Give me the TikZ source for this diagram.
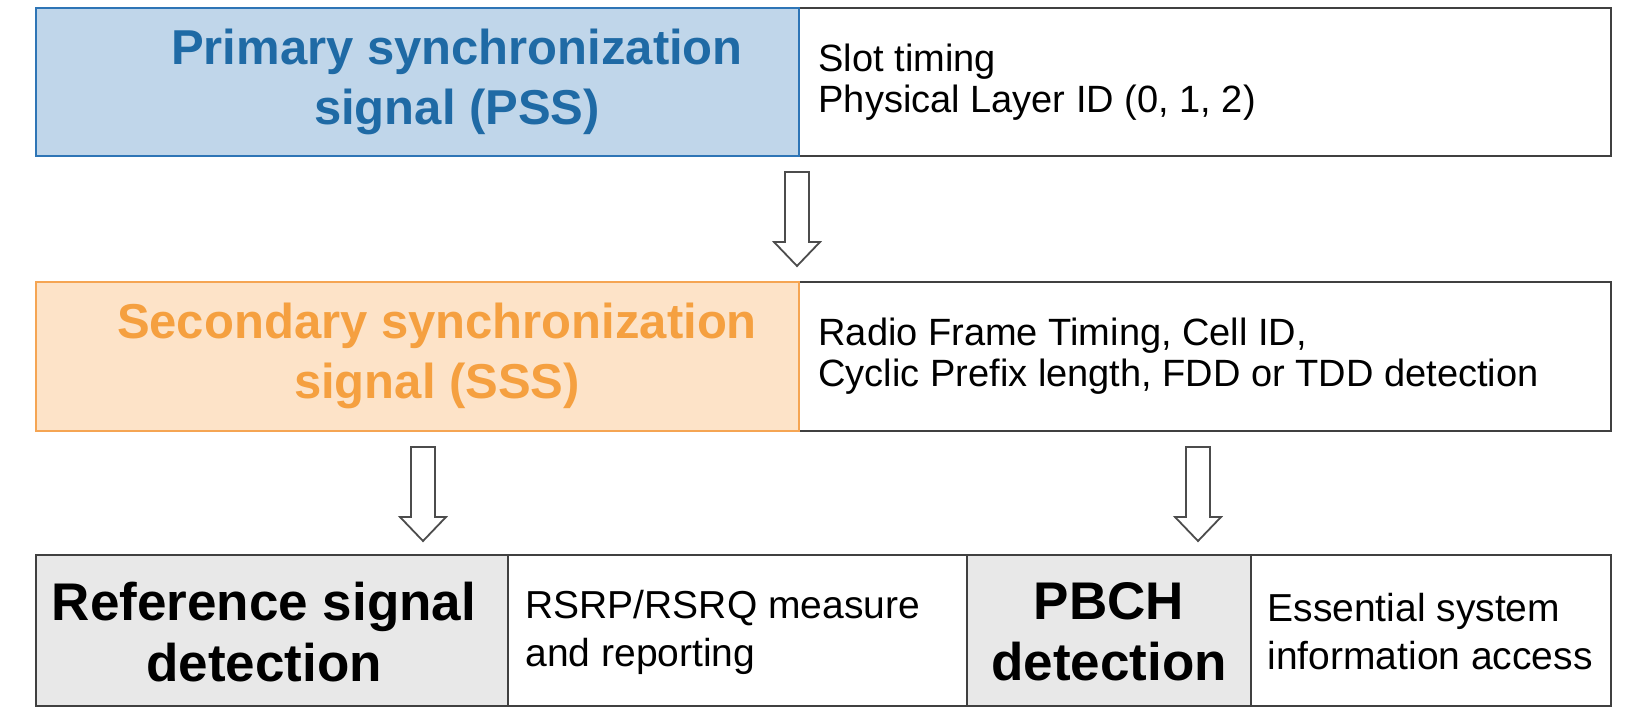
\documentclass[tikz,border=0pt]{standalone}
\usepackage{fontspec}
\setmainfont{Liberation Sans}
\definecolor{bfill}{HTML}{C0D6EA}
\definecolor{bline}{HTML}{2E75B6}
\definecolor{btext}{HTML}{1F6AA5}
\definecolor{ofill}{HTML}{FDE3C8}
\definecolor{oline}{HTML}{F5A553}
\definecolor{otext}{HTML}{F5A040}
\definecolor{gfill}{HTML}{E8E8E8}
\begin{document}
\begin{tikzpicture}[x=1pt,y=-1pt,
  box/.style={draw=black!75,line width=2pt},
  title/.style={font=\fontsize{49}{60}\selectfont\bfseries,align=center},
  desc/.style={font=\fontsize{38}{41}\selectfont,align=left,anchor=west},
  btitle/.style={font=\fontsize{53}{61}\selectfont\bfseries,align=center},
  bdesc/.style={font=\fontsize{39}{48}\selectfont,align=left,anchor=west},
  harrow/.style={draw=black!70,line width=1.8pt,fill=white,line join=miter}]
\useasboundingbox (0,0) rectangle (1632,718);
% row 1
\path[fill=bfill] (36,8) rectangle (799,156);
\path[box] (799,8) rectangle (1611,156);
\path[draw=bline,line width=2pt] (36,8) rectangle (799,156);
\node[title,text=btext] (pss) at (457,82) {Primary synchronization\\signal (PSS)};
\node[desc] (pssd) at (815,82) {Slot timing\\Physical Layer ID (0, 1, 2)};
% row 2
\path[fill=ofill] (36,282) rectangle (799,431);
\path[box] (799,282) rectangle (1611,431);
\path[draw=oline,line width=2pt] (36,282) rectangle (799,431);
\node[title,text=otext] (sss) at (437,356) {Secondary synchronization\\signal (SSS)};
\node[desc] (sssd) at (815,356) {Radio Frame Timing, Cell ID,\\Cyclic Prefix length, FDD or TDD detection};
% row 3
\path[fill=gfill] (36,555) rectangle (508,706);
\path[fill=gfill] (967,555) rectangle (1251,706);
\path[box] (36,555) rectangle (1611,706);
\draw[black!75,line width=1.5pt] (508,555) -- (508,706) (967,555) -- (967,706) (1251,555) -- (1251,706);
\node[btitle] (rs) at (264,632) {Reference signal\\detection};
\node[bdesc] (rsd) at (522,632) {RSRP/RSRQ measure\\and reporting};
\node[btitle] (pb) at (1109,632) {PBCH\\detection};
\node[bdesc] (pbd) at (1264,632) {Essential system\\information access};
% arrows
\coordinate (a1) at (797,172);
\coordinate (a2) at (423,447);
\coordinate (a3) at (1198,447);
\foreach \c in {a1,a2,a3}{
  \draw[harrow] ([xshift=-12pt]\c) -- ([xshift=12pt]\c) -- ([xshift=12pt,yshift=-70pt]\c)
   -- ([xshift=23pt,yshift=-70pt]\c) -- ([yshift=-94pt]\c) -- ([xshift=-23pt,yshift=-70pt]\c)
   -- ([xshift=-12pt,yshift=-70pt]\c) -- cycle;
}
\end{tikzpicture}
\end{document}
